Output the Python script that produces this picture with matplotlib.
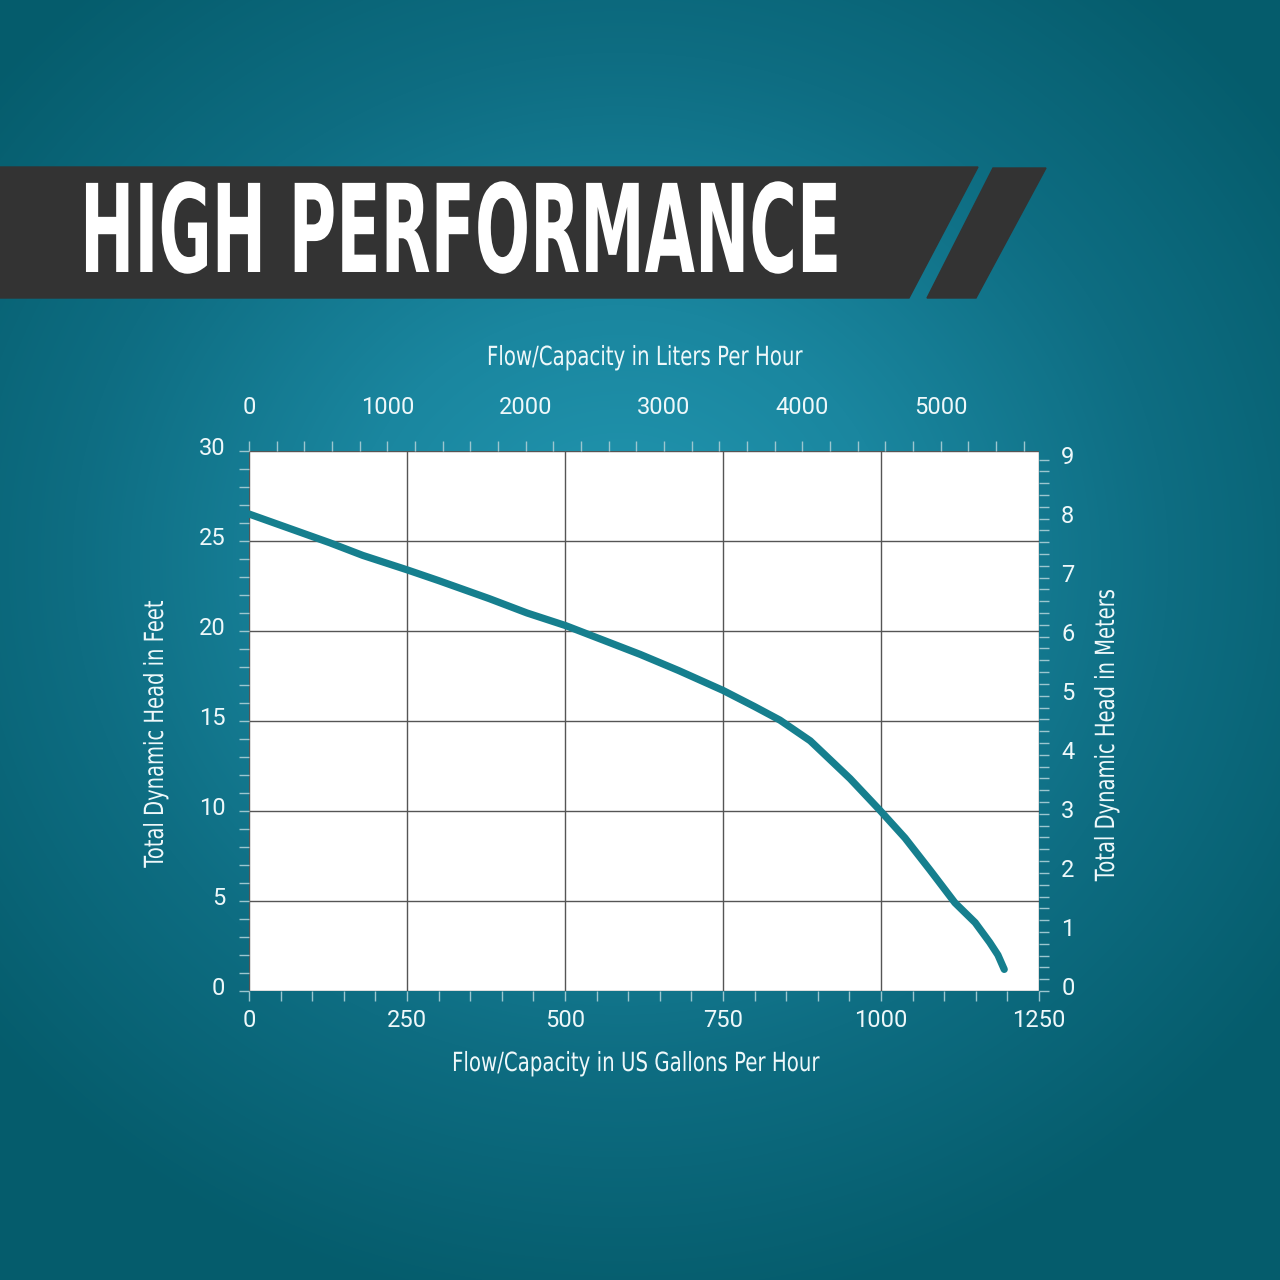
import numpy as np
import matplotlib.pyplot as plt
from matplotlib.patches import Polygon
from matplotlib.patheffects import AbstractPathEffect
from matplotlib.transforms import Affine2D, ScaledTranslation
from matplotlib.colors import LinearSegmentedColormap
from matplotlib.ticker import MultipleLocator

# pump curve
flow_gph = [0, 60, 128, 180, 250, 300, 380, 440, 501, 560, 619, 680, 750, 800, 840, 888, 951, 998, 1038, 1078, 1117, 1149, 1172, 1185, 1195]
head_ft = [26.5, 25.75, 24.9, 24.2, 23.4, 22.8, 21.8, 21.0, 20.3, 19.5, 18.7, 17.8, 16.7, 15.8, 15.05, 13.9, 11.8, 10.05, 8.5, 6.7, 4.9, 3.8, 2.7, 2.0, 1.2]

gph_ticks = [0, 250, 500, 750, 1000, 1250]
lph_ticks = [0, 1000, 2000, 3000, 4000, 5000]
ft_ticks = [0, 5, 10, 15, 20, 25, 30]
m_ticks = [0, 1, 2, 3, 4, 5, 6, 7, 8, 9]

TITLE = "HIGH PERFORMANCE"
LINE_COLOR = "#167f8e"
TICK_COLOR = "#9cc6cf"
TXT = "#eef8fa"

plt.rcParams["font.family"] = ["Roboto", "DejaVu Sans"]


class Squeeze(AbstractPathEffect):
    # scale the glyphs around a pixel point (x0, y0)
    def __init__(self, sx, sy, x0, y0):
        super().__init__()
        self.sx, self.sy, self.x0, self.y0 = sx, sy, x0, y0

    def draw_path(self, renderer, gc, tpath, affine, rgbFace=None):
        t = affine + Affine2D().translate(-self.x0, -self.y0).scale(self.sx, self.sy).translate(self.x0, self.y0)
        renderer.draw_path(gc, tpath, t, rgbFace)


W = H = 1280
fig = plt.figure(figsize=(12.8, 12.8), dpi=100)

# background radial gradient
bg = fig.add_axes([0, 0, 1, 1])
yy, xx = np.mgrid[0:H, 0:W]
r = np.sqrt(((xx - 620) / 820.0) ** 2 + ((yy - 560) / 760.0) ** 2)
cmap = LinearSegmentedColormap.from_list("bg", ["#2297b1", "#1a869f", "#0e6d82", "#055c6c"])
bg.imshow(np.clip(r, 0, 1), cmap=cmap, extent=[0, W, H, 0], aspect="auto", vmin=0, vmax=1)
bg.set_xlim(0, W)
bg.set_ylim(H, 0)
bg.axis("off")

# title banner
bg.add_patch(Polygon([[0, 167], [978, 167], [909, 298], [0, 298]], closed=True, color="#333333"))
bg.add_patch(Polygon([[993, 168], [1046, 168], [976, 298], [927, 298]], closed=True, color="#333333"))
bg.text(80, 272, TITLE, color="white", fontsize=60, fontweight="bold", family="DejaVu Sans",
        ha="left", va="baseline",
        path_effects=[Squeeze(0.779, 1.467, 80, H - 272)])

# main chart
ax = fig.add_axes([249 / W, 1 - 991 / H, 790 / W, 540 / H])
ax.set_facecolor("white")
ax.plot(flow_gph, head_ft, color=LINE_COLOR, lw=5.2, solid_capstyle="round", zorder=3)
ax.set_xlim(0, 1250)
ax.set_ylim(0, 30)
ax.set_xticks(gph_ticks)
ax.set_yticks(ft_ticks)
ax.xaxis.set_minor_locator(MultipleLocator(50))
ax.yaxis.set_minor_locator(MultipleLocator(1))
ax.grid(True, which="major", color="#555555", lw=1)
for s in ax.spines.values():
    s.set_visible(False)
ax.tick_params(which="both", length=7, width=1, color=TICK_COLOR, labelcolor=TXT, labelsize=17)
ax.tick_params(axis="x", pad=6)
ax.tick_params(axis="y", pad=10)

# liters per hour on top
axt = ax.twiny()
axt.set_xlim(0, 5710)
axt.set_xticks(lph_ticks)
axt.xaxis.set_minor_locator(MultipleLocator(200))
axt.tick_params(which="both", length=7, width=1, color=TICK_COLOR, labelcolor=TXT, labelsize=17, pad=16)
for s in axt.spines.values():
    s.set_visible(False)

# meters on the right
axr = ax.twinx()
axr.set_ylim(0, 30 * 0.3048)
axr.set_yticks(m_ticks)
axr.yaxis.set_minor_locator(MultipleLocator(0.2))
axr.tick_params(which="both", length=7, width=1, color=TICK_COLOR, labelcolor=TXT, labelsize=17, pad=9)
for s in axr.spines.values():
    s.set_visible(False)

# y tick labels sit a little above their ticks in the original
up = ScaledTranslation(0, 5 / 100, fig.dpi_scale_trans)
for lab in ax.get_yticklabels() + axr.get_yticklabels():
    lab.set_transform(lab.get_transform() + up)

# axis titles, narrowed like the condensed face of the original
lab_kw = dict(color=TXT, fontsize=19, family="DejaVu Sans", ha="center", va="center")
labels = [
    (645, 358, "Flow/Capacity in Liters Per Hour", 0),
    (636, 1064, "Flow/Capacity in US Gallons Per Hour", 0),
    (156, 734, "Total Dynamic Head in Feet", 90),
    (1107, 735, "Total Dynamic Head in Meters", 90),
]
for px, py, txt, rot in labels:
    sx, sy = (0.75, 1) if rot == 0 else (1, 0.74)
    fig.text(px / W, 1 - py / H, txt, rotation=rot,
             path_effects=[Squeeze(sx, sy, px, H - py)], **lab_kw)

fig.savefig("out.png", dpi=100)
